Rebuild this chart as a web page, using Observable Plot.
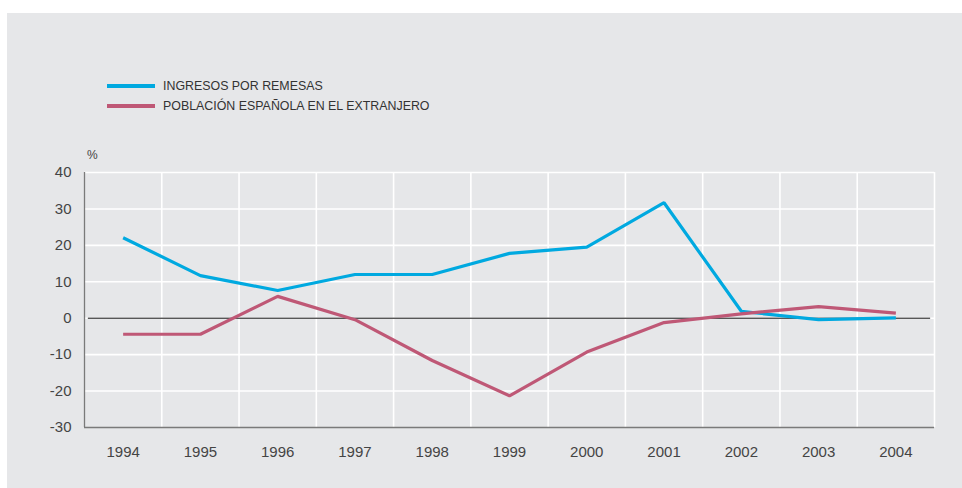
<!DOCTYPE html>
<html>
<head>
<meta charset="utf-8">
<script src="https://cdn.jsdelivr.net/npm/d3@7"></script>
<script src="https://cdn.jsdelivr.net/npm/@observablehq/plot@0.6"></script>
<style>
  html, body { margin: 0; padding: 0; background: #ffffff; }
  #wrap { position: relative; width: 962px; height: 488px; overflow: hidden; }
  #panel { position: absolute; left: 7px; top: 13px; right: 0; bottom: 0; background: #e6e7e9; }
  #chart { position: absolute; left: 0; top: 0; }
  .legend { position: absolute; left: 107px; font-family: "Liberation Sans", Arial, sans-serif; font-size: 12.4px; color: #333; display: flex; align-items: center; }
  .legend .sw { width: 48px; height: 4px; margin-right: 8px; }
  #unit { position: absolute; left: 87px; top: 148px; font-family: "Liberation Sans", Arial, sans-serif; font-size: 12px; color: #444; }
</style>
</head>
<body>
<div id="wrap">
  <div id="panel"></div>
  <div id="chart"></div>
  <div id="leg1" class="legend" style="top:78.5px"><div class="sw" style="background:#00a9e0"></div><span>INGRESOS POR REMESAS</span></div>
  <div id="leg2" class="legend" style="top:99px"><div class="sw" style="background:#bf5876"></div><span>POBLACIÓN ESPAÑOLA EN EL EXTRANJERO</span></div>
  <div id="unit">%</div>
</div>
<script>
const years = [1994, 1995, 1996, 1997, 1998, 1999, 2000, 2001, 2002, 2003, 2004];
const remesas = [22.1, 11.7, 7.6, 12.0, 12.0, 17.8, 19.5, 31.7, 1.9, -0.4, 0.1];
const poblacion = [-4.4, -4.4, 6.0, -0.4, -11.6, -21.3, -9.3, -1.2, 1.2, 3.2, 1.4];
const yTicks = [-30, -20, -10, 0, 10, 20, 30, 40];
const bandEdges = [1994.5, 1995.5, 1996.5, 1997.5, 1998.5, 1999.5, 2000.5, 2001.5, 2002.5, 2003.5, 2004.5];
const seriesNames = ["INGRESOS POR REMESAS", "POBLACIÓN ESPAÑOLA EN EL EXTRANJERO"];
const colors = ["#00a9e0", "#bf5876"];

const data = [];
years.forEach((y, i) => {
  data.push({year: y, value: remesas[i], serie: seriesNames[0]});
  data.push({year: y, value: poblacion[i], serie: seriesNames[1]});
});

const chart = Plot.plot({
  width: 962,
  height: 488,
  marginLeft: 84,
  marginRight: 28,
  marginTop: 172,
  marginBottom: 61,
  style: { background: "transparent", fontFamily: "'Liberation Sans', Arial, sans-serif", color: "#444" },
  x: { domain: [1993.5, 2004.5] },
  y: { domain: [-30, 40] },
  color: { domain: seriesNames, range: colors },
  marks: [
    Plot.ruleY(yTicks.filter(d => d > -30), { stroke: "#ffffff", strokeWidth: 1.6 }),
    Plot.ruleX(bandEdges, { stroke: "#ffffff", strokeWidth: 1.6 }),
    Plot.ruleX([1993.5], { stroke: "#7a7a7a", strokeWidth: 1.3 }),
    Plot.ruleY([-30], { stroke: "#7a7a7a", strokeWidth: 1.3 }),
    Plot.ruleY([0], { x1: 1993.55, x2: 2004.45, stroke: "#111", strokeWidth: 1 }),
    Plot.line(data, { x: "year", y: "value", z: "serie", stroke: "serie", strokeWidth: 3.2, strokeLinejoin: "miter", strokeLinecap: "butt" }),
    Plot.axisY({ ticks: yTicks, tickFormat: d => String(d), tickSize: 0, tickPadding: 13, fontSize: 15, label: null, fill: "#444" }),
    Plot.axisX({ ticks: years, tickFormat: d => String(d), tickSize: 0, tickPadding: 19, fontSize: 15, label: null, fill: "#444" })
  ]
});
document.getElementById("chart").appendChild(chart);
</script>
</body>
</html>
